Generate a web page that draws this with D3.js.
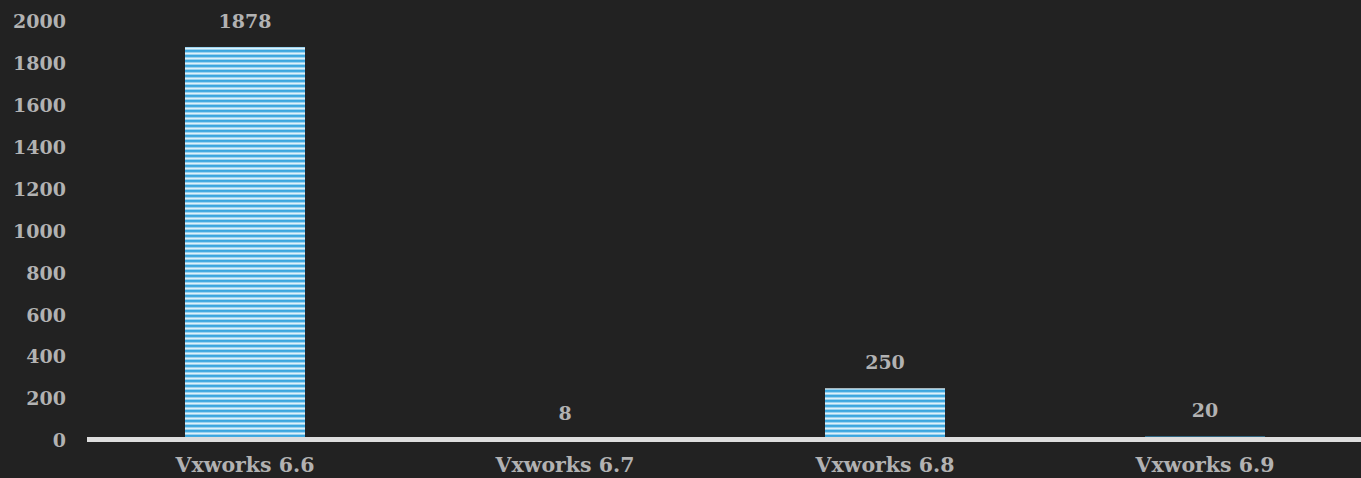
<!DOCTYPE html>
<html>
<head>
<meta charset="utf-8">
<script src="https://cdn.jsdelivr.net/npm/d3@7"></script>
<style>
  body { margin: 0; background: #222222; }
  svg { display: block; }
</style>
</head>
<body>
<svg id="chart" width="1361" height="478"></svg>
<script>
// data
var categories = ["Vxworks 6.6", "Vxworks 6.7", "Vxworks 6.8", "Vxworks 6.9"];
var values = [1878, 8, 250, 20];
var yTicks = [0, 200, 400, 600, 800, 1000, 1200, 1400, 1600, 1800, 2000];

var svg = d3.select("#chart"),
    width = +svg.attr("width"),
    height = +svg.attr("height");

var fontFam = "'DejaVu Serif', serif";

// gestreepte vulling voor de bars
var defs = svg.append("defs");
var pat = defs.append("pattern")
    .attr("id", "stripes")
    .attr("patternUnits", "userSpaceOnUse")
    .attr("width", 10)
    .attr("height", 5);
var stripeCols = ["#3ba6df", "#45abe0", "#9ad3f0", "#def1fa", "#9ad3f0"];
stripeCols.forEach(function(c, i) {
  pat.append("rect").attr("x", 0).attr("y", i).attr("width", 10).attr("height", 1).attr("fill", c);
});

var x = d3.scaleBand()
    .domain(categories)
    .range([85, 1365])
    .paddingInner(0.625)
    .paddingOuter(0.3125);

var y = d3.scaleLinear()
    .domain([0, 2000])
    .range([440.7, 21.4]);

// y as labels
var yAxis = svg.append("g")
    .attr("transform", "translate(66,0)")
    .call(d3.axisLeft(y).tickValues(yTicks).tickFormat(d3.format("d")).tickSize(0).tickPadding(0));
yAxis.select(".domain").remove();
yAxis.selectAll("text")
    .attr("fill", "#b2b2b2")
    .attr("font-family", fontFam)
    .attr("font-weight", "bold")
    .attr("font-size", 19);

// bars
svg.append("g")
  .selectAll("rect")
  .data(values)
  .enter().append("rect")
    .attr("x", function(d, i) { return x(categories[i]); })
    .attr("y", function(d) { return y(d); })
    .attr("width", x.bandwidth())
    .attr("height", function(d) { return y(0) - y(d); })
    .attr("fill", "url(#stripes)");

// waarde labels boven de bars
svg.append("g")
  .selectAll("text")
  .data(values)
  .enter().append("text")
    .attr("x", function(d, i) { return x(categories[i]) + x.bandwidth() / 2; })
    .attr("y", function(d) { return y(d) - 26; })
    .attr("dy", "0.35em")
    .attr("text-anchor", "middle")
    .attr("fill", "#b2b2b2")
    .attr("font-family", fontFam)
    .attr("font-weight", "bold")
    .attr("font-size", 19)
    .text(function(d) { return d; });

// x as lijn
svg.append("line")
    .attr("x1", 87)
    .attr("x2", width)
    .attr("y1", y(0) - 1.2)
    .attr("y2", y(0) - 1.2)
    .attr("stroke", "#dedede")
    .attr("stroke-width", 5);

// x as labels
var xAxis = svg.append("g")
    .attr("transform", "translate(0," + y(0) + ")")
    .call(d3.axisBottom(x).tickSize(0).tickPadding(17));
xAxis.select(".domain").remove();
xAxis.selectAll("text")
    .attr("fill", "#b2b2b2")
    .attr("font-family", fontFam)
    .attr("font-weight", "bold")
    .attr("font-size", 20.5);
</script>
</body>
</html>
